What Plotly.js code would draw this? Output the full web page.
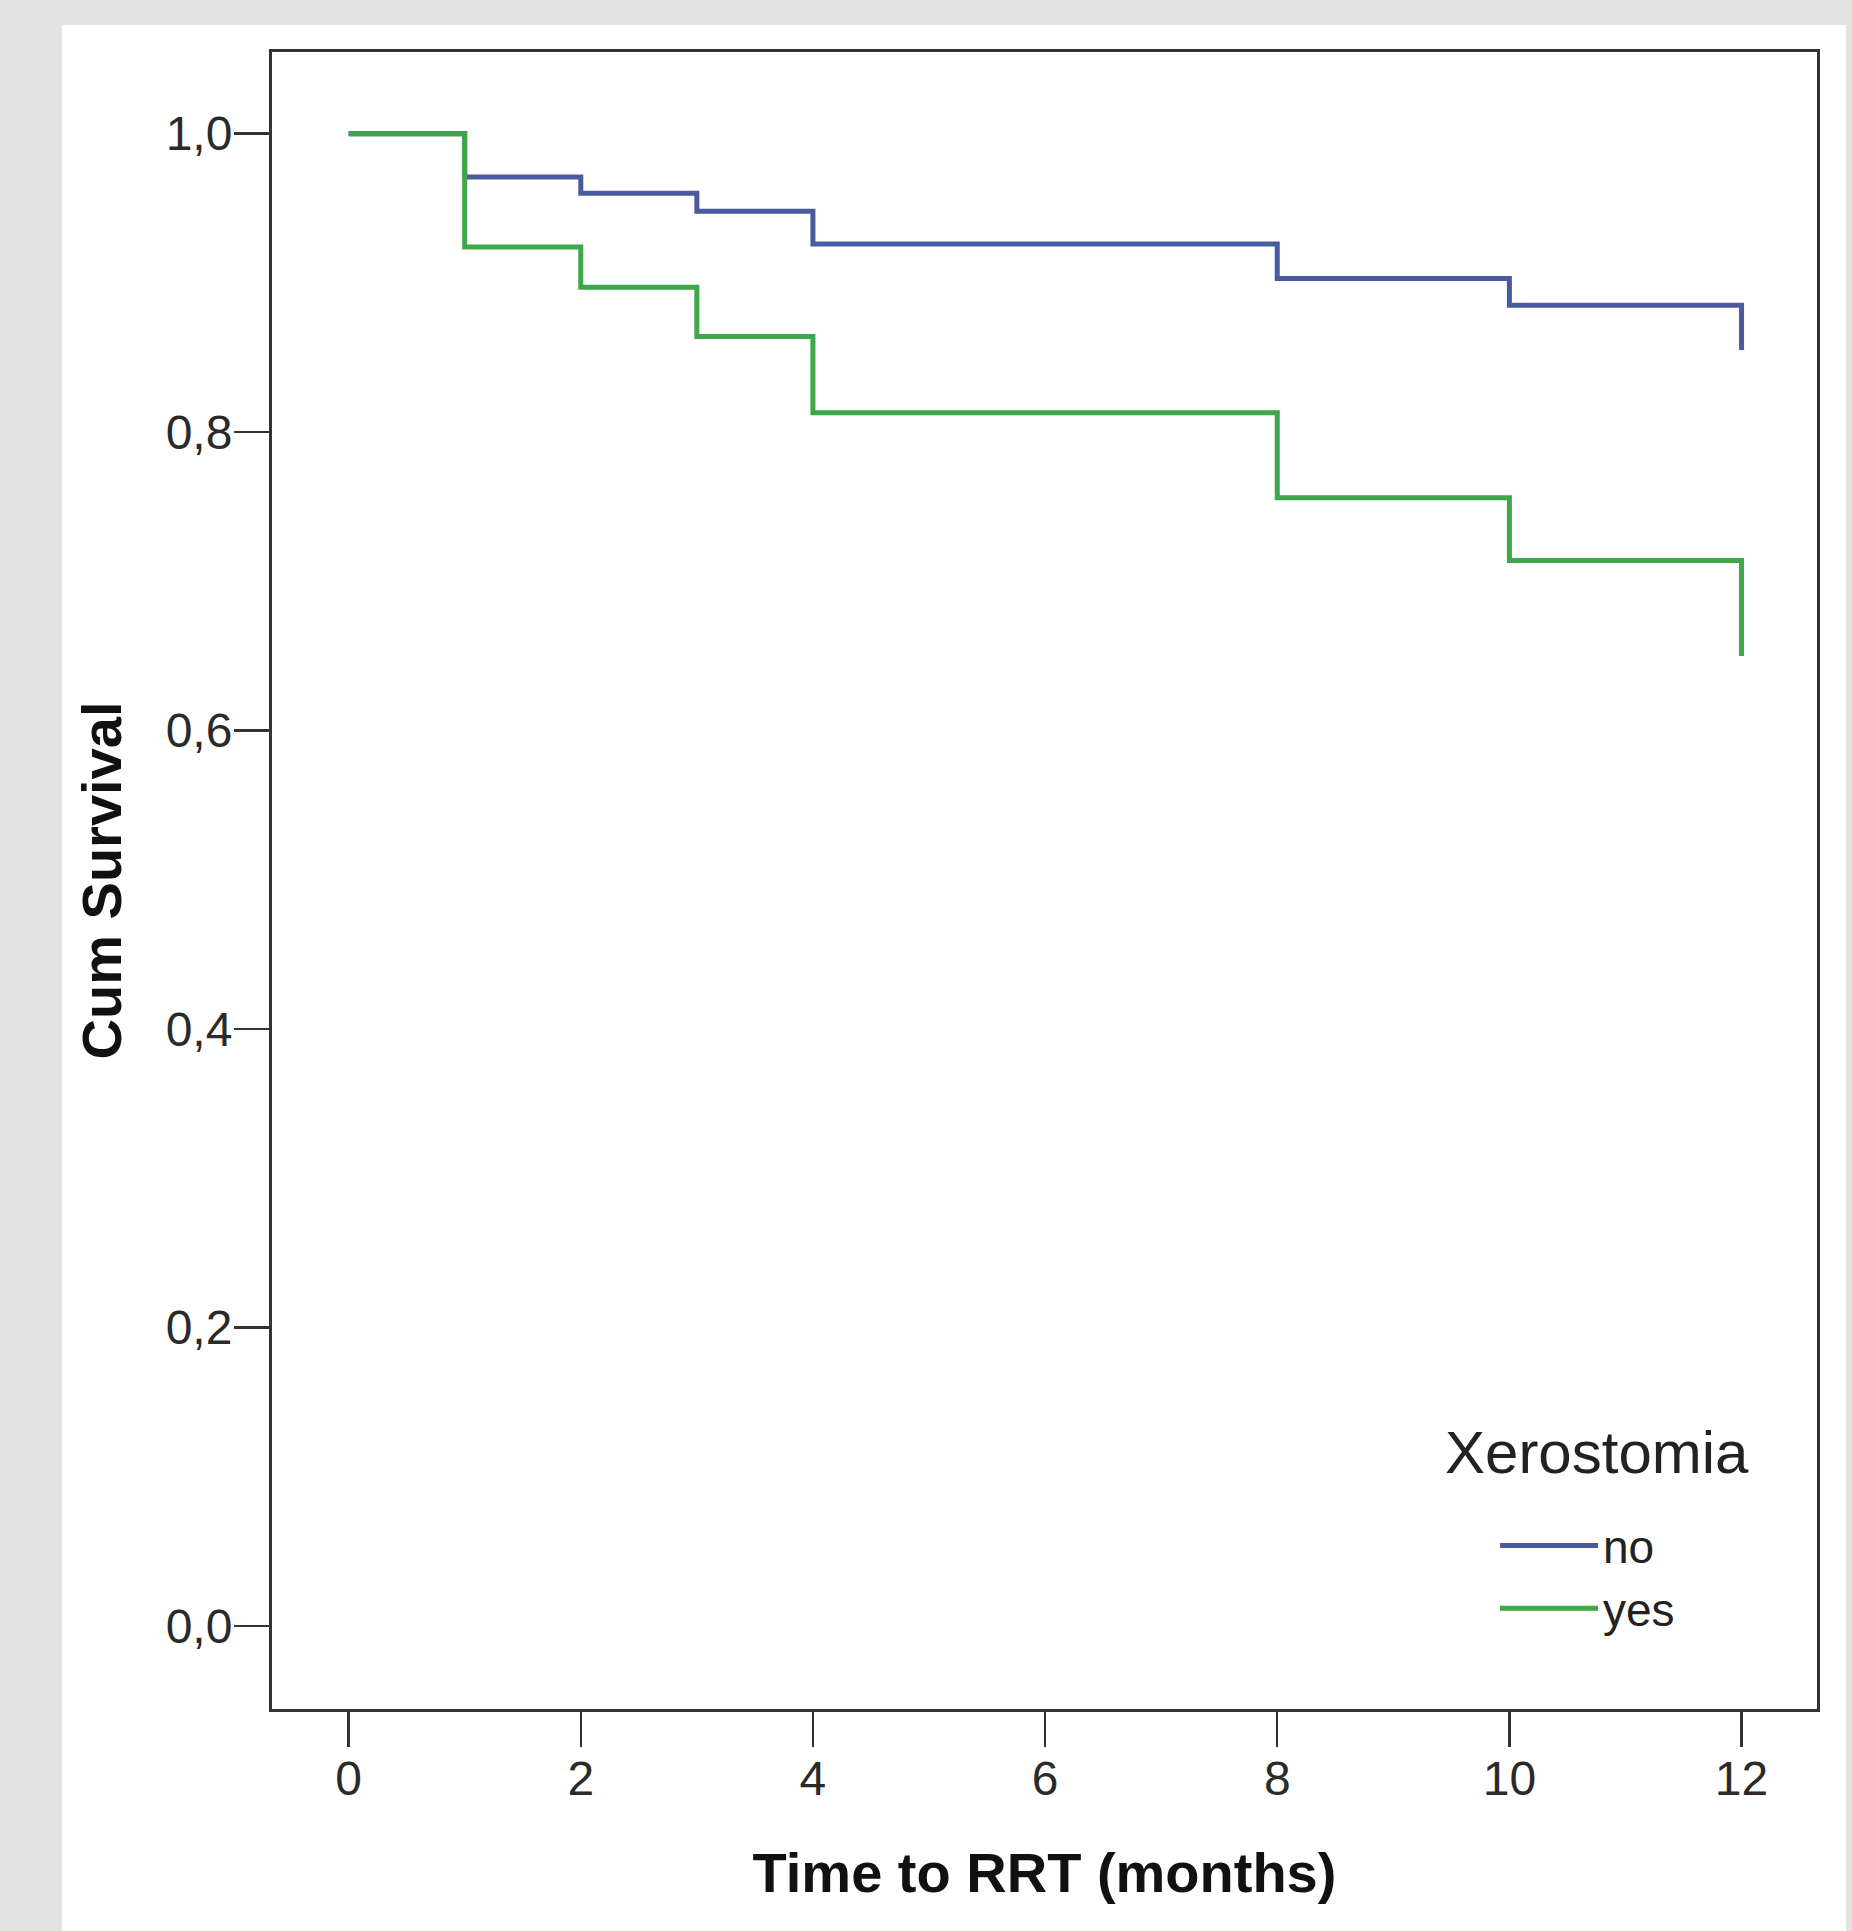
<!DOCTYPE html>
<html>
<head>
<meta charset="utf-8">
<script src="https://cdn.plot.ly/plotly-3.0.1.min.js"></script>
<style>
  html, body { margin: 0; padding: 0; background: #e2e2e2; }
  #chart { width: 1852px; height: 1931px; }
</style>
</head>
<body>
<div id="chart"></div>
<script>
// Time points (months) at which the survival steps occur
const timeMonths = [0, 1, 2, 3, 4, 8, 10, 12];
// Cumulative survival, Xerostomia = no
const survivalNo = [1.0, 0.971, 0.960, 0.948, 0.926, 0.903, 0.885, 0.855];
// Cumulative survival, Xerostomia = yes
const survivalYes = [1.0, 0.924, 0.897, 0.864, 0.813, 0.756, 0.714, 0.650];
// Group labels
const groupNames = ['no', 'yes'];
const legendTitle = 'Xerostomia';
const xTickVals = [0, 2, 4, 6, 8, 10, 12];
const yTickVals = [0, 0.2, 0.4, 0.6, 0.8, 1.0];

const FONT = 'Liberation Sans, Arial, Helvetica, sans-serif';
const BLUE = '#4a5a9e';
const GREEN = '#3fa64a';

const traces = [
  {
    x: timeMonths, y: survivalNo, name: groupNames[0],
    type: 'scatter', mode: 'lines',
    line: { shape: 'hv', color: BLUE, width: 5 }
  },
  {
    x: timeMonths, y: survivalYes, name: groupNames[1],
    type: 'scatter', mode: 'lines',
    line: { shape: 'hv', color: GREEN, width: 5 }
  }
];

const layout = {
  width: 1852,
  height: 1931,
  margin: { l: 272, r: 35, t: 52, b: 222, pad: 0 },
  paper_bgcolor: '#e2e2e2',
  plot_bgcolor: '#ffffff',
  separators: ',.',
  font: { family: FONT, color: '#222222' },
  showlegend: true,
  xaxis: {
    range: [-0.66, 12.65],
    tickvals: xTickVals,
    ticks: 'outside', ticklen: 35, tickwidth: 2.5, tickcolor: '#333333',
    ticklabelstandoff: -10,
    tickfont: { family: FONT, size: 48, color: '#2a2a2a' },
    showgrid: false, zeroline: false,
    showline: true, mirror: true, linecolor: '#333333', linewidth: 3,
    title: { text: '<b>Time to RRT (months)</b>', font: { family: FONT, size: 56, color: '#111111' }, standoff: 50 },
    fixedrange: true
  },
  yaxis: {
    range: [-0.0556, 1.0547],
    tickvals: yTickVals,
    tickformat: '.1f',
    ticks: 'outside', ticklen: 35, tickwidth: 2.5, tickcolor: '#333333',
    ticklabelstandoff: -8,
    tickfont: { family: FONT, size: 48, color: '#2a2a2a' },
    showgrid: false, zeroline: false,
    showline: true, mirror: true, linecolor: '#333333', linewidth: 3,
    title: { text: '<b>Cum Survival</b>', font: { family: FONT, size: 56, color: '#111111' }, standoff: 27 },
    fixedrange: true
  },
  legend: {
    x: 0.7916, xanchor: 'left',
    y: 0.1207, yanchor: 'top',
    bgcolor: 'rgba(0,0,0,0)',
    borderwidth: 0,
    itemwidth: 98,
    tracegroupgap: 0,
    font: { family: FONT, size: 46, color: '#222222' }
  },
  annotations: [
    {
      text: legendTitle, xref: 'paper', yref: 'paper',
      x: 0.7579, xanchor: 'left', y: 0.1545, yanchor: 'middle',
      showarrow: false,
      font: { family: FONT, size: 60, color: '#222222' }
    }
  ],
  shapes: [
    {
      type: 'rect', xref: 'paper', yref: 'paper', layer: 'below',
      x0: -0.1359, x1: 1.0188, y0: -0.14, y1: 1.0163,
      fillcolor: '#ffffff', line: { width: 0 }
    }
  ]
};

Plotly.newPlot('chart', traces, layout, { displayModeBar: false, staticPlot: true });
</script>
</body>
</html>
